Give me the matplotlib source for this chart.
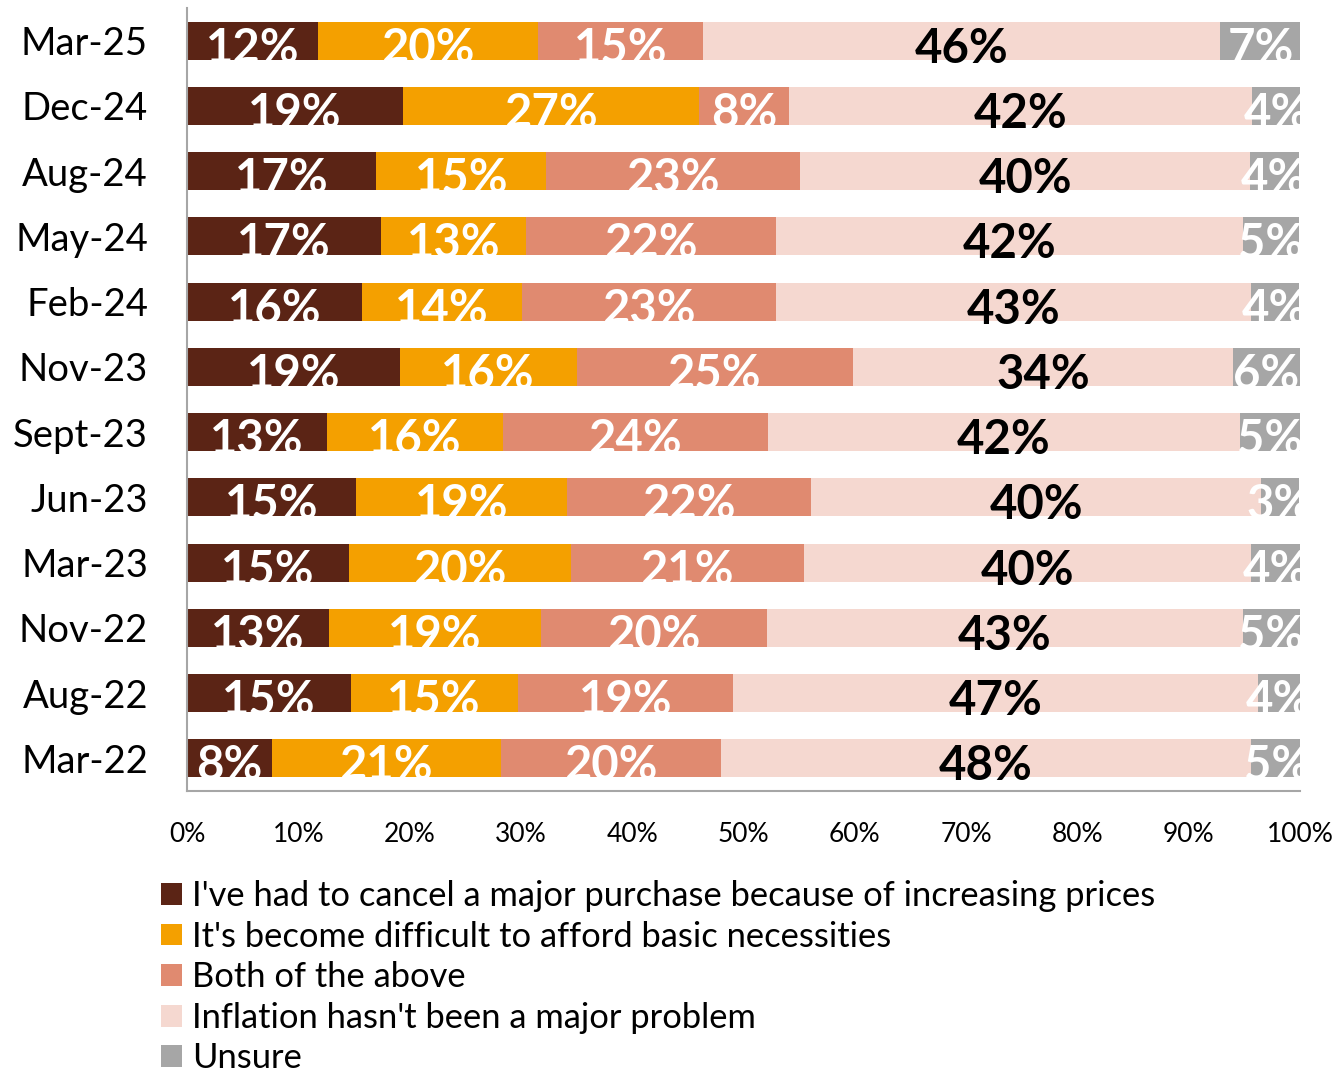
import matplotlib

matplotlib.use("Agg")
import matplotlib.pyplot as plt
import numpy as np
from matplotlib.patches import Patch

periods = ["Mar-25", "Dec-24", "Aug-24", "May-24", "Feb-24", "Nov-23",
           "Sept-23", "Jun-23", "Mar-23", "Nov-22", "Aug-22", "Mar-22"]

series_names = [
    "I've had to cancel a major purchase because of increasing prices",
    "It's become difficult to afford basic necessities",
    "Both of the above",
    "Inflation hasn't been a major problem",
    "Unsure",
]

# shares in percent (top row first)
cancel_purchase = [11.8, 19.4, 17.0, 17.4, 15.7, 19.1, 12.6, 15.2, 14.6, 12.8, 14.7, 7.6]
basic_necessities = [19.7, 26.6, 15.3, 13.1, 14.4, 15.9, 15.8, 18.9, 19.9, 19.0, 15.0, 20.6]
both_above = [14.9, 8.1, 22.8, 22.4, 22.8, 24.8, 23.8, 22.0, 20.9, 20.3, 19.4, 19.8]
not_a_problem = [46.4, 41.6, 40.4, 42.0, 42.7, 34.2, 42.4, 40.4, 40.2, 42.8, 47.1, 47.6]
unsure = [7.3, 4.4, 4.4, 5.0, 4.3, 6.0, 5.4, 3.4, 4.4, 5.1, 3.8, 4.6]

colors = ["#5B2415", "#F4A000", "#E08A70", "#F5D8D0", "#A6A6A6"]
label_colors = ["white", "white", "white", "black", "white"]

plt.rcParams.update({"font.family": ["Lato", "DejaVu Sans"]})

fig = plt.figure(figsize=(13.4, 10.75), dpi=100)
ax = fig.add_axes([0.13955, 0.2642, 0.8306, 0.7284])

y = np.arange(len(periods))
left = np.zeros(len(periods))
all_series = [cancel_purchase, basic_necessities, both_above, not_a_problem, unsure]

for values, color, text_color in zip(all_series, colors, label_colors):
    values = np.array(values)
    ax.barh(y, values, left=left, height=0.58, color=color, edgecolor="none")
    for yi, start, width in zip(y, left, values):
        ax.annotate(
            f"{width:.0f}%",
            xy=(start + width / 2, yi),
            xytext=(0, -15.8),
            textcoords="offset points",
            ha="center",
            va="baseline",
            fontsize=34,
            fontweight="bold",
            color=text_color,
            annotation_clip=False,
        )
    left = left + values

ax.set_xlim(0, 100)
ax.set_ylim(len(periods) - 0.5, -0.5)
ax.set_yticks(y)
ax.set_yticklabels(periods, fontsize=27.5)
ax.set_xticks(np.arange(0, 101, 10))
ax.set_xticklabels([f"{v}%" for v in range(0, 101, 10)], fontsize=19)
ax.tick_params(axis="y", length=0, pad=28)
ax.tick_params(axis="x", length=0, pad=22)

for side in ("top", "right"):
    ax.spines[side].set_visible(False)
for side in ("left", "bottom"):
    ax.spines[side].set_color("#A6A6A6")
    ax.spines[side].set_linewidth(1.5)

handles = [Patch(facecolor=c, edgecolor="none") for c in colors]
fig.legend(
    handles,
    series_names,
    loc="upper left",
    bbox_to_anchor=(161 / 1340, 1 - 880 / 1075),
    frameon=False,
    fontsize=24.8,
    handlelength=0.6,
    handleheight=0.6,
    handletextpad=0.3,
    labelspacing=0.25,
    borderpad=0,
    borderaxespad=0,
)

fig.savefig("out.png", dpi=100)
